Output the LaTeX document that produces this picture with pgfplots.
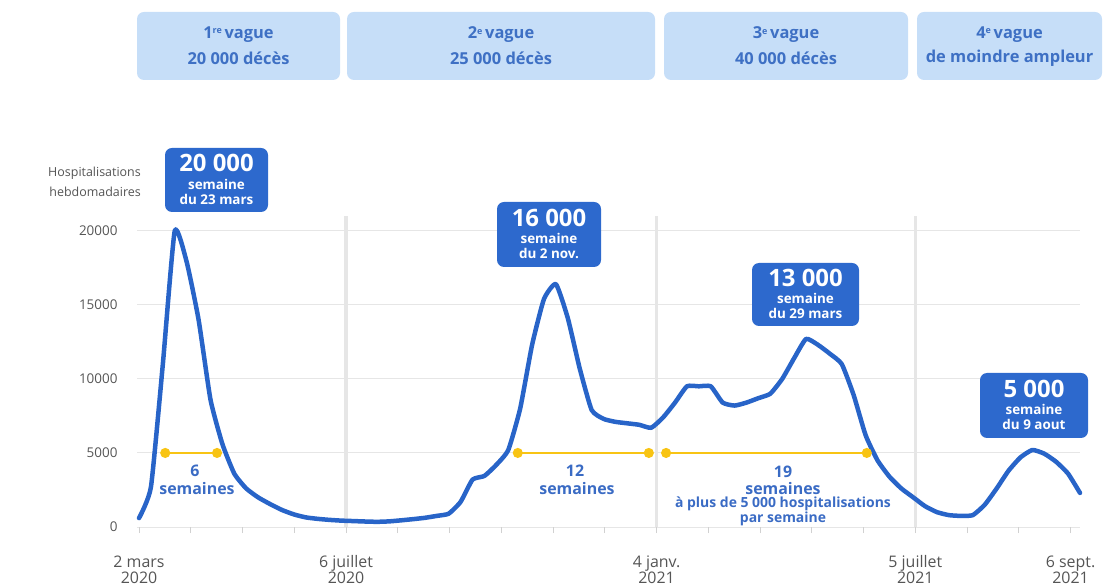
\documentclass[border=0pt]{standalone}
\usepackage{pgfplots}
\pgfplotsset{compat=1.18}
\usepackage{pgfplotstable}
\usepackage{fontspec}
\setmainfont{Open Sans}
\definecolor{lineblue}{HTML}{2864C8}
\definecolor{boxblue}{HTML}{2D69CD}
\definecolor{lightbox}{HTML}{C6DEF8}
\definecolor{boxtext}{HTML}{3E70C4}
\definecolor{gold}{HTML}{F8C414}
\definecolor{txtgray}{HTML}{555555}
\definecolor{gridgray}{HTML}{E6E6E6}
\definecolor{annblue}{HTML}{3A6BC4}
\newcommand{\wsup}[1]{\raisebox{0.55ex}{\fontsize{9}{9}\selectfont #1}}

\pgfplotstableread{
w v
0 600
1 2700
2 11000
3 20000
4 17900
5 14000
6 8600
7 5600
8 3600
9 2600
10 2000
11 1550
12 1150
13 850
14 650
15 550
16 480
17 430
18 400
19 370
20 350
21 380
22 450
23 530
24 620
25 750
26 900
27 1700
28 3200
29 3450
30 4200
31 5200
32 8000
33 12300
34 15400
35 16400
36 14100
37 10700
38 7900
39 7300
40 7100
41 7000
42 6900
43 6700
44 7400
45 8400
46 9500
47 9500
48 9500
49 8400
50 8200
51 8400
52 8700
53 9000
54 10000
55 11400
56 12700
57 12300
58 11700
59 11000
60 8900
61 6200
62 4500
63 3400
64 2600
65 2000
66 1400
67 1000
68 800
69 750
70 800
71 1500
72 2600
73 3800
74 4700
75 5200
76 4950
77 4400
78 3600
79 2300
}\hosp

\begin{document}
\begin{tikzpicture}
\path[use as bounding box] (0,0) rectangle (1104bp,588bp);

% top wave boxes
\fill[lightbox, rounded corners=7bp] (137bp,508bp) rectangle (340bp,576bp);
\fill[lightbox, rounded corners=7bp] (347bp,508bp) rectangle (655bp,576bp);
\fill[lightbox, rounded corners=7bp] (664bp,508bp) rectangle (908bp,576bp);
\fill[lightbox, rounded corners=7bp] (917bp,508bp) rectangle (1102bp,576bp);
\tikzset{tt/.style={font=\fontsize{16.5}{17}\selectfont\bfseries, text=boxtext, inner sep=0pt}}
\node[tt] at (238.5bp,553bp) {1\wsup{re}\,vague};
\node[tt] at (238.5bp,530bp) {20~000 décès};
\node[tt] at (501bp,553bp) {2\wsup{e}\,vague};
\node[tt] at (501bp,530bp) {25~000 décès};
\node[tt] at (786bp,553bp) {3\wsup{e}\,vague};
\node[tt] at (786bp,530bp) {40~000 décès};
\node[tt] at (1009.5bp,553bp) {4\wsup{e}\,vague};
\node[tt] at (1009.5bp,530bp) {de moindre ampleur};

% y axis title
\node[anchor=east, align=right, font=\fontsize{12.5}{20}\selectfont, text=txtgray, inner sep=0pt] at (141bp,406bp) {Hospitalisations\\hebdomadaires};

\begin{axis}[
  at={(137bp,61bp)}, anchor=south west, scale only axis,
  width=943bp, height=311bp,
  xmin=-0.17, xmax=79, ymin=0, ymax=21000,
  clip=false,
  axis line style={draw=none},
  tick align=outside, xtick pos=bottom, ytick pos=left,
  major tick length=6bp,
  xtick={0,4.345,8.69,13.035,17.38,21.725,26.07,30.415,34.76,39.105,43.45,47.795,52.14,56.485,60.83,65.175,69.52,73.865,78.21},
  xticklabels={{2 mars\\2020},{},{},{},{6 juillet\\2020},{},{},{},{},{},{4 janv.\\2021},{},{},{},{},{5 juillet\\2021},{},{},{6 sept.\\2021}},
  xticklabel style={align=center, font=\fontsize{16}{16}\selectfont, text=txtgray, yshift=-19bp},
  x tick style={draw=gridgray!80!gray, line width=1bp},
  ytick={0,5000,10000,15000,20000},
  scaled y ticks=false,
  y tick style={draw=none},
  yticklabel style={font=\fontsize{13.5}{13.5}\selectfont, text=txtgray, xshift=-10bp},
  /pgf/number format/1000 sep={},
  /pgf/number format/assume math mode=true,
  ymajorgrids, y grid style={gridgray, line width=1bp},
  extra x ticks={17.38,43.45,65.175},
  extra x tick labels={},
  extra x tick style={grid=major, grid style={gridgray, line width=3.5bp}, tick style={draw=none}},
]
\addplot[lineblue, line width=4.5bp, smooth, tension=0.3, line join=round, line cap=round] table[x=w,y=v] {\hosp};
\addplot[gold, line width=2bp, mark=*, mark size=4bp, mark options={fill=gold, draw=gold}] coordinates {(2.2,5000) (6.55,5000)};
\addplot[gold, line width=2bp, mark=*, mark size=4bp, mark options={fill=gold, draw=gold}] coordinates {(31.8,5000) (42.8,5000)};
\addplot[gold, line width=2bp, mark=*, mark size=4bp, mark options={fill=gold, draw=gold}] coordinates {(44.25,5000) (61.1,5000)};
\end{axis}

% interval labels
\tikzset{ib/.style={font=\fontsize{16}{16}\selectfont\bfseries, text=annblue, inner sep=0pt}}
\node[ib] at (195bp,117bp) {6};
\node[ib] at (197bp,99bp) {semaines};
\node[ib] at (575bp,117bp) {12};
\node[ib] at (577bp,99bp) {semaines};
\node[ib] at (783bp,116bp) {19};
\node[ib] at (783bp,99bp) {semaines};
\node[font=\fontsize{14}{14}\selectfont\bfseries, text=annblue, inner sep=0pt] at (783bp,84bp) {à plus de 5~000 hospitalisations};
\node[font=\fontsize{14}{14}\selectfont\bfseries, text=annblue, inner sep=0pt] at (783bp,69bp) {par semaine};

% peak boxes
\tikzset{pb/.style={fill=boxblue, rounded corners=7bp, inner sep=0pt},
  pbig/.style={font=\fontsize{24}{24}\selectfont\bfseries, text=white, inner sep=0pt},
  psm/.style={font=\fontsize{13.5}{14}\selectfont\bfseries, text=white, inner sep=0pt}}
\node[pb, minimum width=103bp, minimum height=64bp] at (216.5bp,408bp) {};
\node[pbig] at (216.5bp,425bp) {20~000};
\node[psm] at (216.5bp,404bp) {semaine};
\node[psm] at (216.5bp,389bp) {du 23 mars};
\node[pb, minimum width=104bp, minimum height=65bp] at (549bp,353.5bp) {};
\node[pbig] at (549bp,370bp) {16~000};
\node[psm] at (549bp,350bp) {semaine};
\node[psm] at (549bp,335bp) {du 2 nov.};
\node[pb, minimum width=107bp, minimum height=63bp] at (805.5bp,293.5bp) {};
\node[pbig] at (805.5bp,310bp) {13~000};
\node[psm] at (805.5bp,290bp) {semaine};
\node[psm] at (805.5bp,275bp) {du 29 mars};
\node[pb, minimum width=108bp, minimum height=65bp] at (1034bp,182.5bp) {};
\node[pbig] at (1034bp,199bp) {5~000};
\node[psm] at (1034bp,179bp) {semaine};
\node[psm] at (1034bp,164bp) {du 9 aout};
\end{tikzpicture}
\end{document}
